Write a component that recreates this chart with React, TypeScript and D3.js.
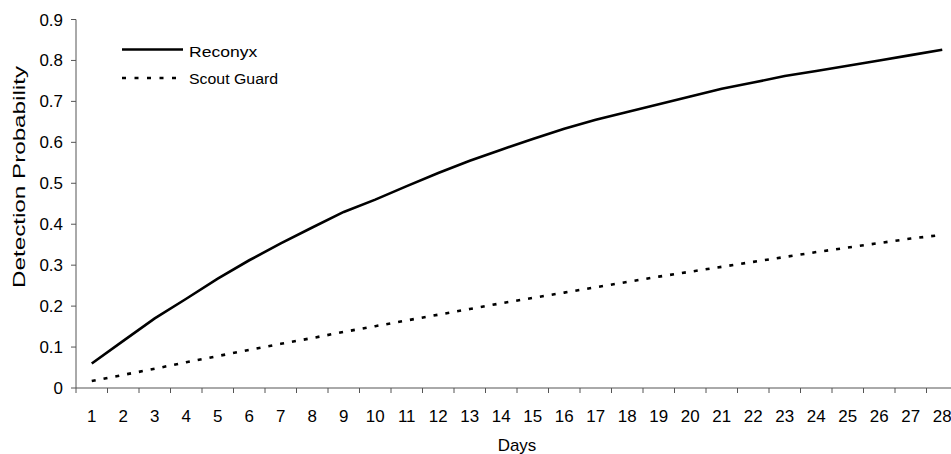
import React from "react";
import * as d3 from "d3";

const days = Array.from({ length: 28 }, (_, i) => String(i + 1));
const reconyx = [0.06, 0.115, 0.17, 0.218, 0.267, 0.312, 0.353, 0.392, 0.43, 0.46, 0.493, 0.525, 0.555, 0.582, 0.608, 0.633, 0.655, 0.674, 0.693, 0.712, 0.731, 0.746, 0.762, 0.774, 0.787, 0.8, 0.813, 0.826];
const scoutGuard = [0.017, 0.032, 0.047, 0.063, 0.078, 0.093, 0.108, 0.122, 0.137, 0.151, 0.165, 0.179, 0.193, 0.207, 0.22, 0.233, 0.246, 0.259, 0.272, 0.284, 0.296, 0.308, 0.32, 0.332, 0.343, 0.354, 0.365, 0.374];
const yTicks = [0, 0.1, 0.2, 0.3, 0.4, 0.5, 0.6, 0.7, 0.8, 0.9];
const seriesNames = ["Reconyx", "Scout Guard"];

function SText({ x, y, sx = 1.06, size = 16, anchor = "start", children }: any) {
  return (
    <text transform={`translate(${x},${y}) scale(${sx},1)`} textAnchor={anchor} fontSize={size} fill="#000">
      {children}
    </text>
  );
}

export default function App() {
  const W = 951, H = 454;
  const left = 76, right = 958, top = 19.5, bottom = 388;
  const x = d3.scaleBand<string>().domain(days).range([left, right]);
  const y = d3.scaleLinear().domain([0, 0.9]).range([bottom, top]);
  const cx = (i: number) => (x(days[i]) as number) + x.bandwidth() / 2;
  const line = d3.line<number>().x((_, i) => cx(i)).y((d) => y(d));
  const font = "'Liberation Sans', Arial, sans-serif";
  const axisColor = "#555";
  return (
    <svg width={W} height={H} style={{ position: "absolute", left: 0, top: 0, background: "#fff" }} fontFamily={font}>
      {/* y axis */}
      <line x1={left} x2={left} y1={top} y2={bottom} stroke={axisColor} strokeWidth={1} />
      {yTicks.map((t) => (
        <g key={t}>
          <line x1={left - 5} x2={left} y1={y(t)} y2={y(t)} stroke={axisColor} />
          <SText x={63} y={y(t) + 6} anchor="end">{t === 0 ? "0" : t.toFixed(1)}</SText>
        </g>
      ))}
      {/* x axis */}
      <line x1={left} x2={right} y1={bottom} y2={bottom} stroke={axisColor} strokeWidth={1} />
      {days.map((d, i) => (
        <g key={d}>
          <line x1={(x(d) as number) + x.bandwidth()} x2={(x(d) as number) + x.bandwidth()} y1={bottom} y2={bottom + 5} stroke={axisColor} />
          {i === 0 && <line x1={x(d) as number} x2={x(d) as number} y1={bottom} y2={bottom + 5} stroke={axisColor} />}
          <SText x={cx(i)} y={421.5} anchor="middle">{d}</SText>
        </g>
      ))}
      <SText x={517} y={451} anchor="middle">Days</SText>
      <text transform={`translate(25, 288) rotate(-90)`} textAnchor="start" fontSize={16.5} textLength={222} lengthAdjust="spacingAndGlyphs">Detection Probability</text>
      {/* series */}
      <path d={line(reconyx) || ""} fill="none" stroke="#000" strokeWidth={2.6} />
      <path d={line(scoutGuard) || ""} fill="none" stroke="#000" strokeWidth={2.6} strokeDasharray="4 8" />
      {/* legend */}
      <line x1={122} x2={183} y1={49.5} y2={49.5} stroke="#000" strokeWidth={2.6} />
      <SText x={189} y={56.5} size={15} sx={1.17}>{seriesNames[0]}</SText>
      <line x1={122} x2={183} y1={78} y2={78} stroke="#000" strokeWidth={2.6} strokeDasharray="4 8.5" />
      <SText x={189} y={83.5} size={15} sx={1.06}>{seriesNames[1]}</SText>
    </svg>
  );
}
